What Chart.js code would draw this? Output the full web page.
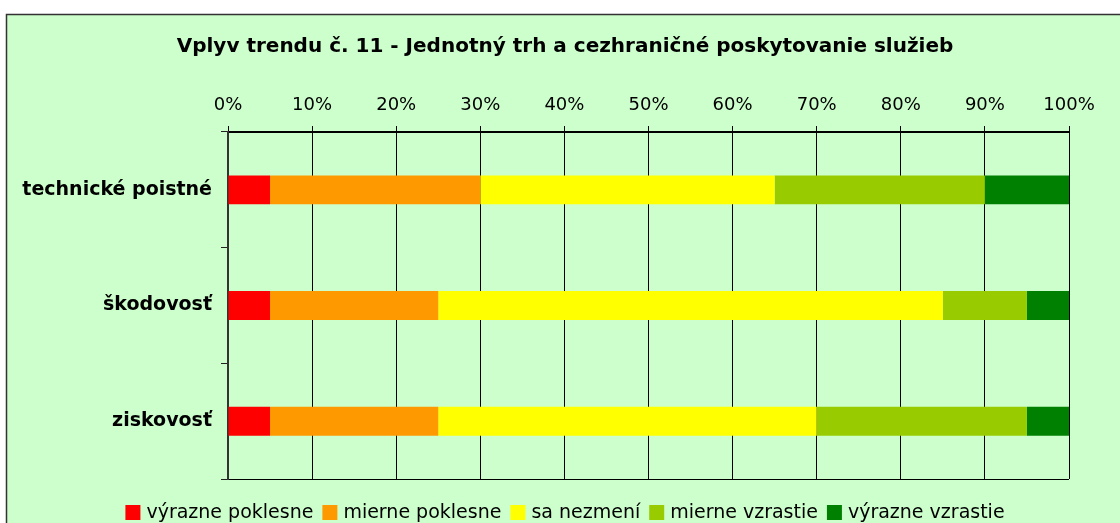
<!DOCTYPE html>
<html><head><meta charset="utf-8">
<script src="https://cdn.jsdelivr.net/npm/chart.js@4.4.0/dist/chart.umd.min.js"></script>
<style>html,body{margin:0;padding:0;background:#fff;} #wrap{width:1120px;height:523px;position:relative;} canvas{display:block;}</style>
</head><body><div id="wrap"><canvas id="c" width="1120" height="523"></canvas></div>
<script>
const chartTitle = 'Vplyv trendu č. 11 - Jednotný trh a cezhraničné poskytovanie služieb';
const categories = ['technické poistné', 'škodovosť', 'ziskovosť'];
const seriesNames = ['výrazne poklesne', 'mierne poklesne', 'sa nezmení', 'mierne vzrastie', 'výrazne vzrastie'];
const vyraznePoklesne = [5, 5, 5];
const miernePoklesne = [25, 20, 20];
const saNezmeni = [35, 60, 45];
const mierneVzrastie = [25, 10, 25];
const vyrazneVzrastie = [10, 5, 5];
const seriesColors = ['#FF0000', '#FF9900', '#FFFF00', '#99CC00', '#008000'];
const xTickLabels = ['0%', '10%', '20%', '30%', '40%', '50%', '60%', '70%', '80%', '90%', '100%'];

const FONT = 'DejaVu Sans';
const seriesValues = [vyraznePoklesne, miernePoklesne, saNezmeni, mierneVzrastie, vyrazneVzrastie];

const bgPlugin = {
  id: 'bg',
  beforeDraw(chart) {
    const ctx = chart.ctx;
    ctx.save();
    ctx.fillStyle = '#FFFFFF';
    ctx.fillRect(0, 0, chart.width, chart.height);
    ctx.fillStyle = '#CCFFCC';
    ctx.fillRect(6, 14, chart.width - 6, chart.height - 14);
    ctx.strokeStyle = '#333333';
    ctx.lineWidth = 1.5;
    ctx.beginPath();
    ctx.moveTo(6.5, chart.height);
    ctx.lineTo(6.5, 14.5);
    ctx.lineTo(chart.width, 14.5);
    ctx.stroke();
    ctx.restore();
  }
};

const titleLegendPlugin = {
  id: 'titleLegend',
  afterDraw(chart) {
    const ctx = chart.ctx;
    ctx.save();
    ctx.fillStyle = '#000';
    ctx.font = 'bold 20px "' + FONT + '"';
    ctx.textAlign = 'center';
    ctx.textBaseline = 'alphabetic';
    ctx.fillText(chartTitle, 565, 52);
    // legend
    ctx.font = '19px "' + FONT + '"';
    ctx.textAlign = 'left';
    const box = 15, gapText = 6, gapItem = 9;
    const ds = chart.data.datasets;
    let total = 0;
    ds.forEach((d, i) => { total += box + gapText + ctx.measureText(d.label).width; if (i < ds.length - 1) total += gapItem; });
    let x = 565 - total / 2;
    ds.forEach((d) => {
      ctx.fillStyle = d.backgroundColor;
      ctx.fillRect(x, 505, box, box);
      x += box + gapText;
      ctx.fillStyle = '#000';
      ctx.fillText(d.label, x, 518);
      x += ctx.measureText(d.label).width + gapItem;
    });
    ctx.restore();
  }
};

new Chart(document.getElementById('c'), {
  type: 'bar',
  data: {
    labels: categories,
    datasets: seriesNames.map((n, i) => ({
      label: n,
      data: seriesValues[i],
      backgroundColor: seriesColors[i],
      borderWidth: 0,
      barPercentage: 0.25,
      categoryPercentage: 1.0
    }))
  },
  options: {
    indexAxis: 'y',
    responsive: false,
    animation: false,
    devicePixelRatio: 1,
    layout: { padding: { left: 0, top: 0, right: 51, bottom: 44 } },
    plugins: { legend: { display: false }, title: { display: false }, tooltip: { enabled: false } },
    scales: {
      x: {
        position: 'top',
        stacked: true,
        min: 0, max: 100,
        ticks: {
          stepSize: 10,
          autoSkip: false,
          maxRotation: 0,
          callback: (v, i) => xTickLabels[i],
          font: { family: FONT, size: 18 },
          color: '#000',
          padding: 10
        },
        grid: { color: '#000', lineWidth: 1, tickLength: 6, tickColor: '#000' },
        border: { display: true, color: '#000', width: 1 },
        afterFit: (s) => { s.height = 132; }
      },
      y: {
        stacked: true,
        offset: true,
        ticks: { font: { family: FONT, size: 19, weight: 'bold' }, color: '#000', padding: 9 },
        grid: {
          offset: true,
          drawOnChartArea: true,
          color: (ctx) => (ctx.index === 0 || ctx.index === undefined) ? '#000' : 'rgba(0,0,0,0)',
          tickColor: '#222',
          tickLength: 7,
          lineWidth: 1
        },
        border: { display: true, color: '#333', width: 2 },
        afterFit: (s) => { s.width = 228; }
      }
    }
  },
  plugins: [bgPlugin, titleLegendPlugin]
});
</script>
</body></html>
